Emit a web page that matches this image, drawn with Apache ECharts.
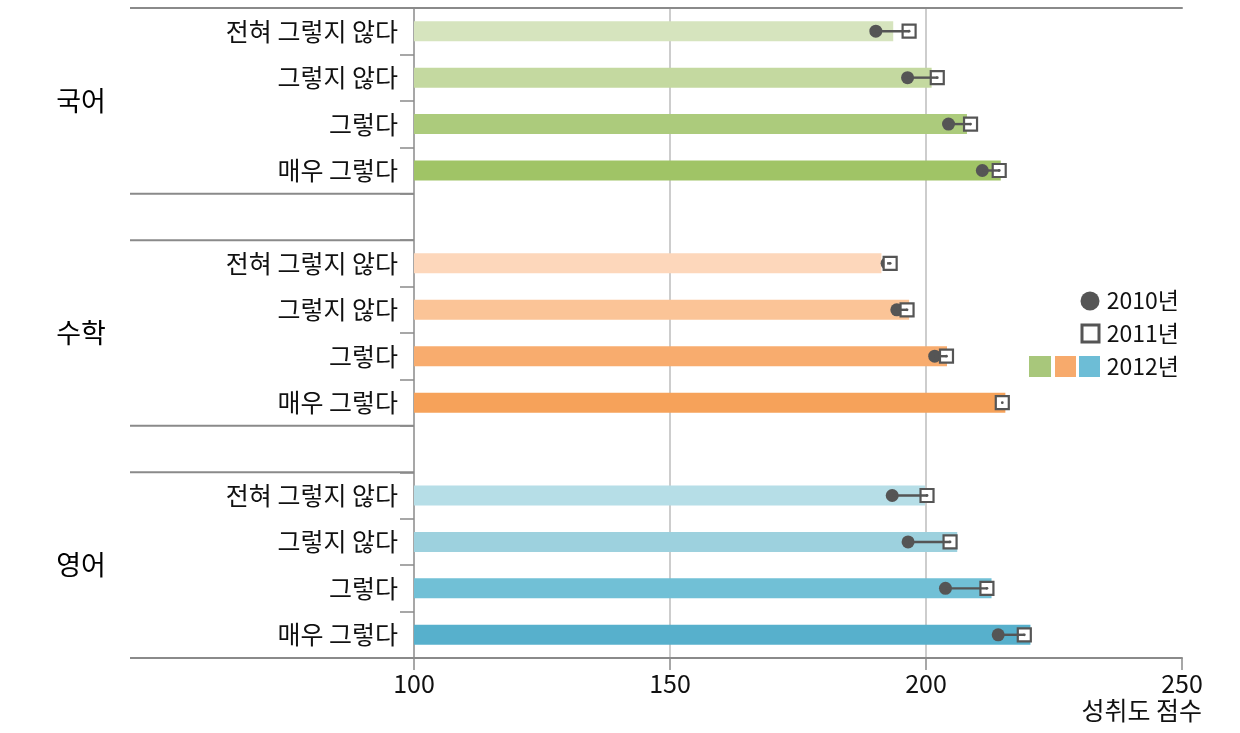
<!DOCTYPE html>
<html>
<head>
<meta charset="utf-8">
<script src="https://cdn.jsdelivr.net/npm/echarts@6/dist/echarts.min.js"></script>
<style>
html,body{margin:0;padding:0;background:#fff;}
#chart{width:1240px;height:733px;}
</style>
</head>
<body>
<div id="chart"></div>
<script>
// ---- data ----
const groups = ['국어', '수학', '영어'];
const levels = ['전혀 그렇지 않다', '그렇지 않다', '그렇다', '매우 그렇다'];
const xTicks = [100, 150, 200, 250];

const kor2010 = [190.2, 196.4, 204.4, 211.0];
const kor2011 = [196.7, 202.2, 208.7, 214.3];
const kor2012 = [193.6, 201.1, 208.0, 214.6];

const math2010 = [192.4, 194.3, 201.7, 214.9];
const math2011 = [193.0, 196.3, 204.0, 214.9];
const math2012 = [191.3, 196.7, 204.1, 215.5];

const eng2010 = [193.4, 196.5, 203.8, 214.1];
const eng2011 = [200.2, 204.7, 211.9, 219.2];
const eng2012 = [199.8, 206.1, 212.8, 220.4];

const legendNames = ['2010년', '2011년', '2012년'];
const axisName = '성취도 점수';

// ---- styles ----
const barColors = [
  ['#d6e4be', '#c4d9a0', '#accb7c', '#a0c466'],
  ['#fdd7bb', '#fbc497', '#f8ac6e', '#f6a25a'],
  ['#b6dee7', '#9dd1de', '#71c0d6', '#57b0cc']
];
const legendColors = ['#a8c77b', '#f7aa6c', '#6dbdd6'];
const FONT = '"Noto Sans CJK KR", "Noto Sans", sans-serif';
const MARK = '#555555';
const AXIS = '#8a8a8a';
const TXT = '#111';

// ---- build ----
const v2010 = [kor2010, math2010, eng2010];
const v2011 = [kor2011, math2011, eng2011];
const v2012 = [kor2012, math2012, eng2012];

const cats = [];
const barData = [];
const dotData = [];
const groupRanges = [];
groups.forEach((g, gi) => {
  if (gi > 0) { cats.push('gap' + gi); barData.push(null); }
  const start = cats.length;
  levels.forEach((lv, li) => {
    const idx = cats.length;
    cats.push(g + '|' + lv);
    barData.push({ value: v2012[gi][li], itemStyle: { color: barColors[gi][li] } });
    dotData.push([idx, v2010[gi][li], v2011[gi][li]]);
  });
  groupRanges.push([100, start, cats.length - 1]);
});

const chart = echarts.init(document.getElementById('chart'), null, { renderer: 'canvas' });

const option = {
  animation: false,
  textStyle: { fontFamily: FONT },
  grid: { left: 414, right: 58, top: 8, bottom: 75, containLabel: false },
  xAxis: [
    {
      type: 'value', min: xTicks[0], max: xTicks[xTicks.length - 1], interval: xTicks[1] - xTicks[0],
      position: 'bottom',
      axisLine: { show: true, lineStyle: { color: AXIS, width: 2 } },
      axisTick: { show: true, length: 12, lineStyle: { color: AXIS, width: 1.5 } },
      axisLabel: { fontSize: 25, color: TXT, margin: 13, fontFamily: FONT },
      splitLine: { show: true, showMinLine: false, showMaxLine: false, lineStyle: { color: '#bdbdbd', width: 1.5 } },
      name: axisName, nameLocation: 'end', nameGap: 20,
      nameTextStyle: { fontSize: 25, color: TXT, align: 'right', verticalAlign: 'top', padding: [40, 0, 0, 0], fontFamily: FONT }
    },
    {
      type: 'value', min: xTicks[0], max: xTicks[xTicks.length - 1], position: 'top',
      axisLine: { show: true, lineStyle: { color: AXIS, width: 2 } },
      axisTick: { show: false }, axisLabel: { show: false }, splitLine: { show: false }
    }
  ],
  yAxis: {
    type: 'category', data: cats, inverse: true,
    axisLine: { show: true, lineStyle: { color: AXIS, width: 1.5 } },
    axisTick: { show: true, interval: 0, length: 14, lineStyle: { color: AXIS, width: 1.5 } },
    axisLabel: {
      interval: 0, fontSize: 25, color: TXT, margin: 16, fontFamily: FONT,
      formatter: v => v.indexOf('|') >= 0 ? v.split('|')[1] : ''
    },
    splitLine: { show: false }
  },
  series: [
    {
      type: 'bar', data: barData, barWidth: 20, xAxisIndex: 0, yAxisIndex: 0, z: 2, silent: true
    },
    {
      type: 'custom', xAxisIndex: 0, yAxisIndex: 0, z: 5, silent: true, clip: false,
      data: dotData,
      encode: { x: [1, 2], y: 0 },
      renderItem: function (params, api) {
        const p1 = api.coord([api.value(1), api.value(0)]);
        const p2 = api.coord([api.value(2), api.value(0)]);
        const s = 13;
        return {
          type: 'group',
          children: [
            { type: 'circle', shape: { cx: p1[0], cy: p1[1], r: 6.5 }, style: { fill: MARK } },
            { type: 'rect', shape: { x: p2[0] - s / 2, y: p2[1] - s / 2, width: s, height: s },
              style: { fill: '#fff', stroke: MARK, lineWidth: 2.2 } },
            { type: 'line', shape: { x1: p1[0], y1: p1[1], x2: p2[0], y2: p2[1] },
              style: { stroke: MARK, lineWidth: 2.4 } },
            { type: 'circle', shape: { cx: p2[0], cy: p2[1], r: 1.4 }, style: { fill: MARK } }
          ]
        };
      }
    },
    {
      type: 'custom', xAxisIndex: 0, yAxisIndex: 0, z: 4, silent: true, clip: false,
      data: groupRanges,
      encode: { x: 0, y: [1, 2] },
      renderItem: function (params, api) {
        const band = api.size([0, 1])[1];
        const a = api.coord([api.value(0), api.value(1)]);
        const b = api.coord([api.value(0), api.value(2)]);
        const x0 = params.coordSys.x;
        const left = x0 - 284;
        const yTop = a[1] - band / 2;
        const yBot = b[1] + band / 2;
        return {
          type: 'group',
          children: [
            { type: 'line', shape: { x1: left, y1: yTop, x2: x0, y2: yTop }, style: { stroke: AXIS, lineWidth: 2 } },
            { type: 'line', shape: { x1: left, y1: yBot, x2: x0, y2: yBot }, style: { stroke: AXIS, lineWidth: 2 } },
            { type: 'text', style: { x: x0 - 333, y: (yTop + yBot) / 2, text: groups[params.dataIndex],
              fill: '#000', font: '27px ' + FONT, align: 'center', verticalAlign: 'middle' } }
          ]
        };
      }
    }
  ],
  graphic: [
    { type: 'circle', shape: { cx: 1090, cy: 301, r: 9.5 }, style: { fill: MARK } },
    { type: 'text', style: { x: 1179, y: 300, text: legendNames[0], fill: TXT, font: '23px ' + FONT, align: 'right', verticalAlign: 'middle' } },
    { type: 'rect', shape: { x: 1082, y: 325, width: 17, height: 17 }, style: { fill: '#fff', stroke: MARK, lineWidth: 3 } },
    { type: 'text', style: { x: 1179, y: 333, text: legendNames[1], fill: TXT, font: '23px ' + FONT, align: 'right', verticalAlign: 'middle' } },
    { type: 'rect', shape: { x: 1029, y: 356, width: 22, height: 21 }, style: { fill: legendColors[0] } },
    { type: 'rect', shape: { x: 1055, y: 356, width: 21, height: 21 }, style: { fill: legendColors[1] } },
    { type: 'rect', shape: { x: 1079, y: 356, width: 21, height: 21 }, style: { fill: legendColors[2] } },
    { type: 'text', style: { x: 1179, y: 366, text: legendNames[2], fill: TXT, font: '23px ' + FONT, align: 'right', verticalAlign: 'middle' } }
  ]
};
chart.setOption(option);
</script>
</body>
</html>
